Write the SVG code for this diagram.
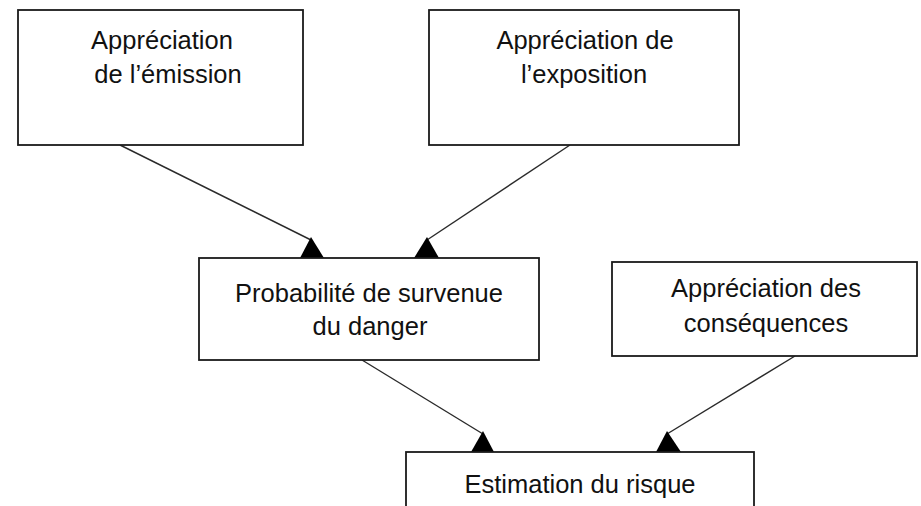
<svg xmlns="http://www.w3.org/2000/svg" width="921" height="506" viewBox="0 0 921 506">
<style>
.box{fill:#fff;stroke:#1a1a1a;stroke-width:1.8}
.t{font-family:"Liberation Sans",Arial,sans-serif;font-size:25.5px;fill:#111;text-anchor:middle}
.ln{stroke:#2a2a2a;stroke-width:1.4;fill:none}
.ah{fill:#000}
</style>
<rect width="921" height="506" fill="#fff"/>
<g id="connectors">
<line class="ln" x1="120" y1="145" x2="311" y2="240"/>
<polygon class="ah" points="311,237 300,258 324,258"/>
<line class="ln" x1="570" y1="145" x2="427" y2="240"/>
<polygon class="ah" points="427,237 414,258 439,258"/>
<line class="ln" x1="362" y1="360" x2="483" y2="434"/>
<polygon class="ah" points="483,431 471,452 494,452"/>
<line class="ln" x1="795" y1="356" x2="667" y2="434"/>
<polygon class="ah" points="667,431 656,452 681,452"/>
</g>
<g id="emission">
<rect class="box" x="18" y="10" width="285" height="135"/>
<text class="t" x="162" y="49">Appréciation</text>
<text class="t" x="168" y="83">de l’émission</text>
</g>
<g id="exposition">
<rect class="box" x="429" y="10" width="310" height="135"/>
<text class="t" x="585" y="49">Appréciation de</text>
<text class="t" x="584" y="83">l’exposition</text>
</g>
<g id="probabilite">
<rect class="box" x="199" y="258" width="340" height="102"/>
<text class="t" x="369" y="302">Probabilité de survenue</text>
<text class="t" x="370" y="335">du danger</text>
</g>
<g id="consequences">
<rect class="box" x="612" y="262" width="305" height="94"/>
<text class="t" x="766" y="297">Appréciation des</text>
<text class="t" x="766" y="332">conséquences</text>
</g>
<g id="estimation">
<rect class="box" x="406" y="452" width="348" height="70"/>
<text class="t" x="580" y="493">Estimation du risque</text>
</g>
</svg>
